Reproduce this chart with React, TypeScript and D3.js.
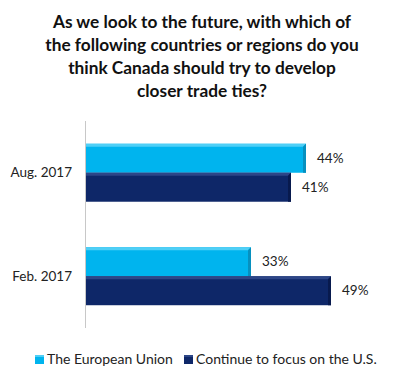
import * as d3 from "d3";

const categories = ["Aug. 2017", "Feb. 2017"];
const seriesNames = ["The European Union", "Continue to focus on the U.S."];
const euValues = [44, 33];
const usValues = [41, 49];
const titleLines = [
  "As we look to the future, with which of",
  "the following countries or regions do you",
  "think Canada should try to develop",
  "closer trade ties?",
];

const W = 405;
const H = 384;
const FONT = "Lato, 'Open Sans', sans-serif";
const colors = ["#00B4EE", "#0E2768"];
const tops = ["#4FCFF6", "#2D4687"];
const sides = ["#0790BF", "#081A4E"];

export default function App() {
  const y = d3
    .scaleBand<string>()
    .domain(categories)
    .range([121, 328])
    .paddingInner(0.44)
    .paddingOuter(0.22);
  const inner = d3
    .scaleBand<string>()
    .domain(seriesNames)
    .range([0, y.bandwidth()]);
  const x = d3.scaleLinear().domain([0, 60]).range([86, 386]);

  const values = [euValues, usValues];

  const bars = categories.flatMap((cat, ci) =>
    seriesNames.map((s, si) => {
      const v = values[si][ci];
      const by = (y(cat) ?? 0) + (inner(s) ?? 0);
      const bh = inner.bandwidth();
      const x0 = x(0);
      const x1 = x(v);
      const b = 3;
      return (
        <g key={cat + s}>
          <rect x={x0} y={by} width={x1 - x0} height={bh} fill={colors[si]} />
          <polygon
            points={`${x0},${by} ${x1},${by} ${x1 - b},${by + b} ${x0},${by + b}`}
            fill={tops[si]}
          />
          <polygon
            points={`${x1},${by} ${x1},${by + bh} ${x1 - b},${by + bh} ${x1 - b},${by + b}`}
            fill={sides[si]}
          />
          <text
            x={x1 + 11}
            y={by + bh / 2 + 1}
            dominantBaseline="middle"
            fontSize={13.5}
            fontFamily={FONT}
            fill="#222"
          >
            {v}%
          </text>
        </g>
      );
    })
  );

  return (
    <svg
      width={W}
      height={H}
      style={{ position: "absolute", left: 0, top: 0, background: "#fff" }}
    >
      {titleLines.map((t, i) => (
        <text
          key={i}
          x={202}
          y={24 + i * 23}
          textAnchor="middle"
          dominantBaseline="middle"
          fontSize={17.3}
          fontWeight="bold"
          fontFamily={FONT}
          fill="#111"
        >
          {t}
        </text>
      ))}
      <line x1={x(0) - 0.5} x2={x(0) - 0.5} y1={121} y2={328} stroke="#c8c8c8" />
      {bars}
      {categories.map((c) => (
        <text
          key={c}
          x={72}
          y={(y(c) ?? 0) + y.bandwidth() / 2 + 1}
          textAnchor="end"
          dominantBaseline="middle"
          fontSize={13.5}
          fontFamily={FONT}
          fill="#222"
        >
          {c}
        </text>
      ))}
      {seriesNames.map((s, i) => {
        const lx = [35, 184][i];
        return (
          <g key={s}>
            <rect x={lx} y={355} width={9} height={9} fill={colors[i]} />
            <rect x={lx} y={355} width={9} height={2} fill={tops[i]} />
            <text
              x={lx + 12}
              y={360}
              dominantBaseline="middle"
              fontSize={14}
              fontFamily={FONT}
              fill="#222"
            >
              {s}
            </text>
          </g>
        );
      })}
    </svg>
  );
}
